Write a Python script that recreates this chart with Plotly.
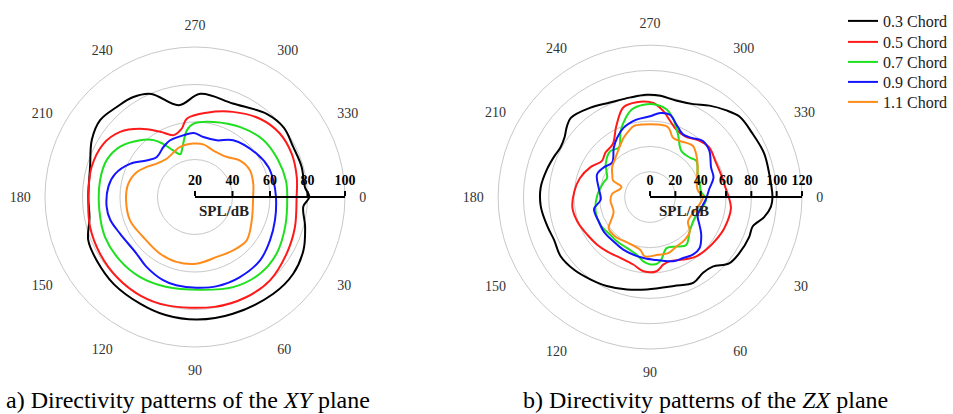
import plotly.graph_objects as go

# ---------------- data ----------------
angle_ticks = [0, 30, 60, 90, 120, 150, 180, 210, 240, 270, 300, 330]
angle_labels = [str(a) for a in angle_ticks]

series_names = ["0.3 Chord", "0.5 Chord", "0.7 Chord", "0.9 Chord", "1.1 Chord"]
series_colors = ["#000000", "#ff1a1a", "#1ee01e", "#1414ff", "#ff8c1a"]

xy_radial_ticks = [20, 40, 60, 80, 100]
zx_radial_ticks = [0, 20, 40, 60, 80, 100, 120]

# XY plane (theta in degrees, SPL in dB)
xy_03_theta = [0, 5, 15, 26, 38, 51, 72, 89, 104, 117, 133, 147, 158, 169, 180, 196, 209, 219, 229, 238, 247, 260, 273, 292, 311, 322, 333, 344, 355]
xy_03_r     = [81, 78, 80.8, 84.4, 86.5, 86.4, 85.5, 85.4, 84.9, 84, 83.5, 82.4, 81.4, 77.3, 76.9, 78.2, 82.9, 85.1, 83.6, 82.7, 79.7, 69.7, 75.1, 73.8, 78.6, 80.1, 78.8, 79.1, 78.9]

xy_05_theta = [0, 17, 32, 48, 63, 80, 105, 119, 134, 149, 164, 180, 196, 210, 221, 231, 242, 251, 259, 264, 278, 294, 310, 323, 336, 349]
xy_05_r     = [74.2, 75.7, 77.5, 79.8, 80, 79.5, 79.7, 80.1, 79.7, 79, 78.2, 76.9, 77.4, 76.5, 72.9, 66.8, 59.4, 54.9, 57.1, 62, 65.4, 69.7, 74.3, 76.5, 76.5, 75.3]

xy_07_theta = [0, 18, 35, 50, 67, 87, 108, 125, 140, 156, 172, 190, 203, 214, 226, 234, 239, 245, 251, 256, 263, 269, 284, 303, 320, 336, 350]
xy_07_r     = [69.2, 70.6, 73, 73.6, 72.2, 69.5, 70.3, 71.8, 72.4, 72.5, 71.5, 71.4, 71, 68.1, 62.1, 57.5, 53.1, 47.4, 44.1, 47.5, 55.8, 59.1, 61.2, 64.4, 67.4, 68.5, 69.3]

xy_09_theta = [0, 16, 30, 44, 61, 76, 89, 102, 111, 125, 136, 154, 165, 174, 187, 196, 207, 217, 226, 238, 246, 259, 269, 278, 291, 304, 325, 338, 348]
xy_09_r     = [63.2, 64.4, 66.2, 68.4, 69, 69, 68.4, 68.1, 67.5, 65.3, 63.4, 64.5, 66.8, 67.4, 66.5, 64.4, 58.9, 52.4, 49.5, 51.6, 53, 53.5, 54.1, 52.3, 52.4, 56.5, 60.2, 62.3, 62.7]

xy_11_theta = [0, 22, 40, 54, 70, 89, 106, 122, 142, 160, 177, 191, 203, 212, 221, 234, 253, 268, 279, 291, 308, 321, 334, 347]
xy_11_r     = [51, 52.7, 56, 55, 54, 55.6, 56, 55.5, 54.9, 56.8, 56.8, 56.3, 53.8, 50.3, 47.1, 45.4, 47.8, 48.5, 48.4, 46.7, 47.2, 50.9, 52.6, 51.9]

# ZX plane
zx_03_theta = [0, 4.5, 10, 16, 22, 32, 40, 48, 55, 63, 75, 92, 104, 116, 126, 136, 146.5, 156, 164, 175, 185, 195, 203, 209, 215, 220, 225, 236, 247, 259, 268, 276, 285, 295, 303, 311, 318, 328, 339, 349]
zx_03_r     = [96.7, 95.8, 91.5, 84.3, 84.4, 83.3, 81.5, 73.9, 73, 75.8, 72.7, 73, 75.2, 78.1, 80.3, 83, 84.7, 83, 84.3, 86.6, 86.7, 84.3, 82.2, 80.9, 82.4, 85.9, 88.5, 85, 81.1, 80.2, 80.8, 80.4, 78.9, 81, 86.1, 91, 95, 95.2, 96.5, 95.9]

zx_05_theta = [1, 8, 23, 33, 43, 52, 62, 73, 79, 85, 95, 104, 116, 128, 138, 149, 161, 172, 184, 195, 207, 217, 225, 235, 244.5, 253.5, 262, 272, 279, 285, 291, 300, 311, 320, 332, 344, 354]
zx_05_r     = [62.5, 64.5, 63.6, 62.1, 60.8, 59.4, 55.9, 53.1, 54.4, 58.8, 58.8, 54.9, 53.5, 54.7, 56.2, 57.8, 60.5, 61.9, 60, 57.4, 52.5, 47.5, 49.8, 51.2, 62, 74, 75.7, 74.3, 68.5, 62, 57.3, 55.4, 59.1, 61, 58.8, 58.9, 60.3]

zx_07_theta = [1.6, 10.6, 21, 30, 41, 53, 62, 72, 81, 87, 96, 103, 114, 126.5, 136, 150.5, 165, 182, 198, 204, 217, 229, 238, 246, 253, 258, 266, 274, 281, 286, 294, 304, 315, 322, 334, 342, 354.5]
zx_07_r     = [44.3, 42.4, 39.2, 39.1, 41.5, 47.4, 44.3, 42.4, 51.4, 53.4, 51, 46.7, 44.2, 43.7, 43.3, 44.9, 44.5, 41.7, 38.3, 37.2, 43.8, 48, 46.3, 57.1, 65.5, 70.5, 73.1, 73.1, 70.3, 65.1, 54.2, 44.1, 44.2, 46.4, 41.9, 41, 40.6]

zx_09_theta = [1.6, 9, 21, 29.5, 36.5, 46, 53, 62, 70, 87, 96, 106, 117, 129, 143, 154, 168, 177, 189, 203, 212.7, 222.4, 233.7, 241, 249, 260, 270, 277, 283.5, 290, 297.7, 305, 313, 322, 334, 343, 352]
zx_09_r     = [44.3, 42.1, 40.3, 44.9, 50.3, 56.2, 56.7, 54.7, 53.9, 49.5, 48.4, 47.4, 46.6, 45.4, 45.6, 44.9, 45.2, 39, 40.9, 45.5, 43.4, 40.5, 48.4, 53.6, 58.5, 62.1, 63.8, 66.9, 67, 61, 55.9, 57.1, 60.8, 59.4, 53.6, 52.4, 47.3]

zx_11_theta = [0, 11.7, 23.7, 33, 41, 51, 62, 72, 82, 95, 100.6, 115, 131, 143, 148, 158, 175, 185, 195, 200, 204, 210, 218, 229, 241, 246, 252, 257, 265, 275, 283, 286, 291, 298, 304, 310, 317, 328, 341, 352]
zx_11_r     = [41.7, 38.5, 35.6, 35.7, 41.5, 43.5, 44.3, 46.5, 46, 47, 42.4, 40.2, 41.5, 40.9, 36.8, 31, 31.4, 30, 24.5, 24, 32, 34.4, 38, 41.5, 47.8, 51.3, 54.8, 57.5, 57.6, 57.6, 57.5, 55.7, 50.3, 50.1, 51.6, 52.7, 49.8, 44.4, 39, 38.1]

xy_series = [(xy_03_theta, xy_03_r), (xy_05_theta, xy_05_r), (xy_07_theta, xy_07_r),
             (xy_09_theta, xy_09_r), (xy_11_theta, xy_11_r)]
zx_series = [(zx_03_theta, zx_03_r), (zx_05_theta, zx_05_r), (zx_07_theta, zx_07_r),
             (zx_09_theta, zx_09_r), (zx_11_theta, zx_11_r)]

# ---------------- figure ----------------
SERIF = "Liberation Serif"
W, H = 953, 414
fig = go.Figure()


def closed(th, r):
    return list(th) + [th[0] + 360], list(r) + [r[0]]


legend_ids = ["legend", "legend2", "legend3", "legend4", "legend5"]

for i, (th, r) in enumerate(xy_series):
    t2, r2 = closed(th, r)
    fig.add_trace(go.Scatterpolar(theta=t2, r=r2, mode="lines", subplot="polar",
                                  name=series_names[i], showlegend=False,
                                  line=dict(color=series_colors[i], width=2, shape="spline")))
for i, (th, r) in enumerate(zx_series):
    t2, r2 = closed(th, r)
    fig.add_trace(go.Scatterpolar(theta=t2, r=r2, mode="lines", subplot="polar2",
                                  name=series_names[i], showlegend=True, legend=legend_ids[i],
                                  line=dict(color=series_colors[i], width=2, shape="spline")))

grid_col = "#c8c8c8"


def angular():
    return dict(rotation=0, direction="clockwise", tickmode="array",
                tickvals=angle_ticks, ticktext=angle_labels, showgrid=False,
                showline=True, linecolor=grid_col, linewidth=1,
                ticks="outside", ticklen=11, tickcolor="rgba(0,0,0,0)",
                tickfont=dict(family=SERIF, size=14, color="#333333"))


def radial(rng, ticks):
    return dict(range=rng, tickmode="array", tickvals=ticks,
                ticktext=[str(t) for t in ticks], angle=0, tickangle=0,
                side="counterclockwise", showline=True, linecolor="black",
                linewidth=2, ticks="outside", ticklen=5, tickwidth=2,
                tickcolor="black", gridcolor=grid_col, gridwidth=1,
                tickfont=dict(family=SERIF, size=14, color="black", weight="bold"))


legend_y_px = [21, 42, 62, 82, 102]
layout_legends = {}
for i, lid in enumerate(legend_ids):
    layout_legends[lid] = dict(x=843 / W, y=1 - legend_y_px[i] / H, xanchor="left",
                               yanchor="middle",
                               font=dict(family=SERIF, size=16, color="#222222"),
                               bgcolor="rgba(0,0,0,0)")

fig.update_layout(
    width=W, height=H,
    margin=dict(l=0, r=0, t=0, b=0),
    paper_bgcolor="white",
    polar=dict(domain=dict(x=[0.0472, 0.362], y=[0.1618, 0.8865]),
               bgcolor="white", angularaxis=angular(),
               radialaxis=radial([20, 100], xy_radial_ticks)),
    polar2=dict(domain=dict(x=[0.5226, 0.8416], y=[0.157, 0.891]),
                bgcolor="white", angularaxis=angular(),
                radialaxis=radial([0, 120], zx_radial_ticks)),
    annotations=[
        dict(text="<b>SPL/dB</b>", x=224 / W, y=1 - 211 / H, xref="paper", yref="paper",
             xanchor="center", yanchor="middle", showarrow=False,
             font=dict(family=SERIF, size=15, color="#222222")),
        dict(text="<b>SPL/dB</b>", x=684 / W, y=1 - 211 / H, xref="paper", yref="paper",
             xanchor="center", yanchor="middle", showarrow=False,
             font=dict(family=SERIF, size=15, color="#222222")),
        dict(text="a) Directivity patterns of the <i>XY</i> plane", x=188 / W, y=1 - 400 / H,
             xref="paper", yref="paper", xanchor="center", yanchor="middle", showarrow=False,
             font=dict(family=SERIF, size=24, color="black")),
        dict(text="b) Directivity patterns of the <i>ZX</i> plane", x=705 / W, y=1 - 400 / H,
             xref="paper", yref="paper", xanchor="center", yanchor="middle", showarrow=False,
             font=dict(family=SERIF, size=24, color="black")),
    ],
    **layout_legends,
)

fig.write_html("out.html")
